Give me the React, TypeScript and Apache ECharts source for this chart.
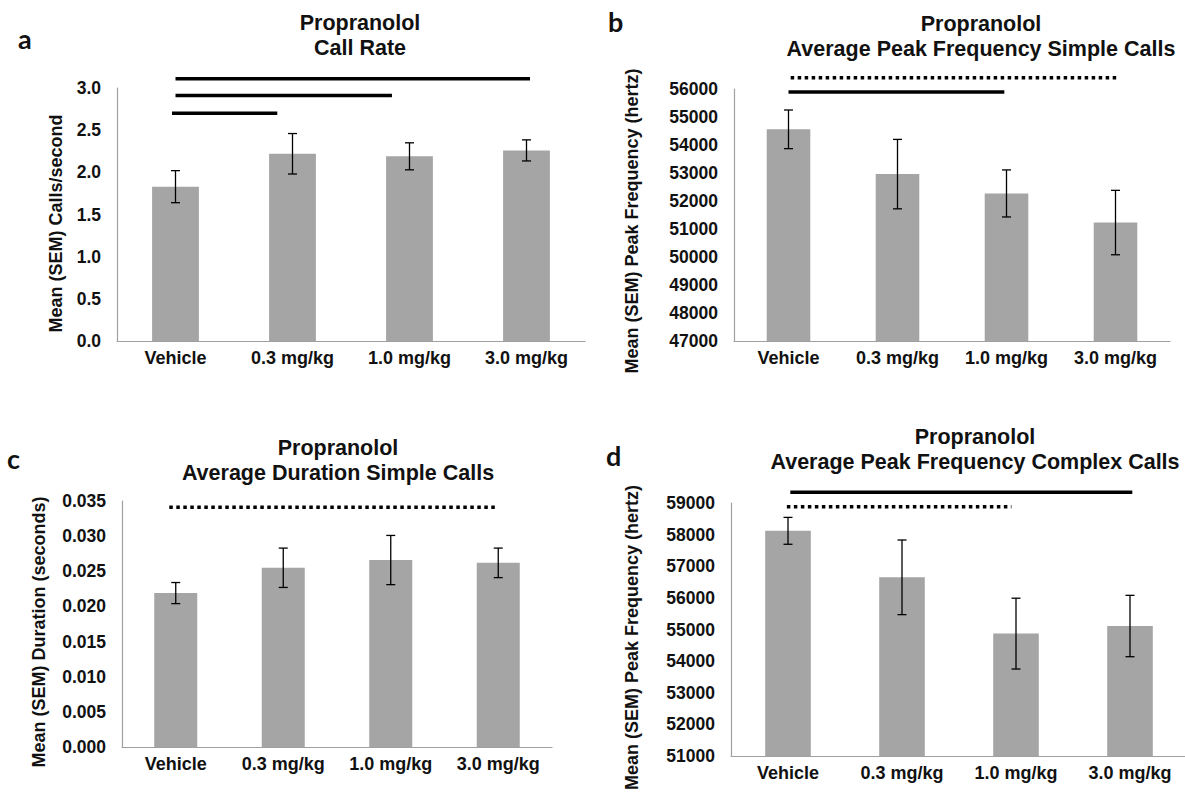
import React, { useEffect, useRef } from "react";
import * as echarts from "echarts";

// Dose groups shared by all four panels
const categories = ["Vehicle", "0.3 mg/kg", "1.0 mg/kg", "3.0 mg/kg"];

// a: call rate (calls/second)
const callRateMean = [1.83, 2.22, 2.19, 2.26];
const callRateSem = [0.19, 0.24, 0.16, 0.125];

// b: average peak frequency, simple calls (Hz)
const simplePeakMean = [54560, 52960, 52270, 51230];
const simplePeakSem = [690, 1240, 840, 1150];

// c: average duration, simple calls (s)
const simpleDurMean = [0.0219, 0.0255, 0.0266, 0.0262];
const simpleDurSem = [0.0015, 0.0028, 0.0035, 0.0021];

// d: average peak frequency, complex calls (Hz)
const complexPeakMean = [58120, 56650, 54870, 55110];
const complexPeakSem = [425, 1180, 1120, 970];

// Significance bars: [from group, to group, level, kind]
const callRateSig: [number, number, number, string][] = [
  [0, 3.03, 3.11, "solid"],
  [0, 1.85, 2.91, "solid"],
  [-0.03, 0.87, 2.7, "solid"],
];
const simplePeakSig: [number, number, number, string][] = [
  [0.02, 3.02, 56404, "dotted"],
  [0, 1.98, 55893, "solid"],
];
const simpleDurSig: [number, number, number, string][] = [
  [-0.06, 2.97, 0.0341, "dotted"],
];
const complexPeakSig: [number, number, number, string][] = [
  [0.02, 3.02, 59338, "solid"],
  [-0.01, 1.96, 58884, "dotted"],
];

const FONT = "'Liberation Sans', Arial, sans-serif";
const BAR = "#a5a5a5";
const AXIS = "#a0a0a0";
const TEXT = "#111";

type Panel = {
  letter: string;
  letterPos: [number, number];
  title: string;
  titleX: number;
  titleTop: number;
  grid: { left: number; top: number; width: number; height: number };
  yName: string;
  yNameGap: number;
  yNamePad: number;
  min: number;
  max: number;
  interval: number;
  digits: number;
  mean: number[];
  sem: number[];
  sig: [number, number, number, string][];
};

const panels: Panel[] = [
  {
    letter: "a",
    letterPos: [13, 20],
    title: "Propranolol\nCall Rate",
    titleX: 355,
    titleTop: 5,
    grid: { left: 117, top: 88, width: 468, height: 253 },
    yName: "Mean (SEM) Calls/second",
    yNameGap: 52,
    yNamePad: 18,
    min: 0,
    max: 3,
    interval: 0.5,
    digits: 1,
    mean: callRateMean,
    sem: callRateSem,
    sig: callRateSig,
  },
  {
    letter: "b",
    letterPos: [603, 3],
    title: "Propranolol\nAverage Peak Frequency Simple Calls",
    titleX: 976,
    titleTop: 6,
    grid: { left: 734, top: 89, width: 436, height: 252 },
    yName: "Mean (SEM) Peak Frequency (hertz)",
    yNameGap: 93,
    yNamePad: 12,
    min: 47000,
    max: 56000,
    interval: 1000,
    digits: 0,
    mean: simplePeakMean,
    sem: simplePeakSem,
    sig: simplePeakSig,
  },
  {
    letter: "c",
    letterPos: [2, 440],
    title: "Propranolol\nAverage Duration Simple Calls",
    titleX: 333,
    titleTop: 430,
    grid: { left: 122, top: 501, width: 430, height: 246 },
    yName: "Mean (SEM) Duration (seconds)",
    yNameGap: 74,
    yNamePad: 16,
    min: 0,
    max: 0.035,
    interval: 0.005,
    digits: 3,
    mean: simpleDurMean,
    sem: simpleDurSem,
    sig: simpleDurSig,
  },
  {
    letter: "d",
    letterPos: [601, 437],
    title: "Propranolol\nAverage Peak Frequency Complex Calls",
    titleX: 970,
    titleTop: 419,
    grid: { left: 731, top: 503, width: 456, height: 253 },
    yName: "Mean (SEM) Peak Frequency (hertz)",
    yNameGap: 90,
    yNamePad: 16,
    min: 51000,
    max: 59000,
    interval: 1000,
    digits: 0,
    mean: complexPeakMean,
    sem: complexPeakSem,
    sig: complexPeakSig,
  },
];

function buildOption() {
  const title: any[] = [];
  const grid: any[] = [];
  const xAxis: any[] = [];
  const yAxis: any[] = [];
  const series: any[] = [];

  panels.forEach((p, k) => {
    title.push({
      text: p.title,
      left: p.titleX,
      top: p.titleTop,
      textAlign: "center",
      textStyle: {
        fontFamily: FONT,
        fontSize: 21.5,
        fontWeight: "bold",
        color: TEXT,
        lineHeight: 25,
      },
    });
    title.push({
      text: p.letter,
      left: p.letterPos[0],
      top: p.letterPos[1],
      textStyle: {
        fontFamily: "Lato, 'Open Sans', sans-serif",
        fontSize: 27,
        fontWeight: "bold",
        color: TEXT,
      },
    });

    grid.push({ ...p.grid, containLabel: false, outerBoundsMode: "none" });

    xAxis.push({
      type: "category",
      gridIndex: k,
      data: categories,
      axisLine: { onZero: false, lineStyle: { color: AXIS, width: 1.2 } },
      axisTick: { show: false },
      axisLabel: {
        interval: 0,
        hideOverlap: false,
        color: TEXT,
        fontFamily: FONT,
        fontWeight: "bold",
        fontSize: 18,
        margin: 8,
      },
    });
    // Hidden numeric axis over the same bands, used to place comparison bars
    xAxis.push({
      type: "value",
      gridIndex: k,
      min: -0.5,
      max: 3.5,
      show: false,
    });

    yAxis.push({
      type: "value",
      gridIndex: k,
      min: p.min,
      max: p.max,
      interval: p.interval,
      splitLine: { show: false },
      axisTick: { show: false },
      axisLine: { show: true, onZero: false, lineStyle: { color: AXIS, width: 1.2 } },
      axisLabel: {
        color: TEXT,
        fontFamily: FONT,
        fontWeight: "bold",
        fontSize: 17.5,
        margin: 16,
        formatter: (v: number) => v.toFixed(p.digits),
      },
      name: p.yName,
      nameLocation: "middle",
      nameGap: p.yNameGap,
      nameTextStyle: {
        color: TEXT,
        fontFamily: FONT,
        fontWeight: "bold",
        fontSize: 18,
        padding: [0, p.yNamePad, 0, 0],
      },
    });

    series.push({
      type: "bar",
      xAxisIndex: 2 * k,
      yAxisIndex: k,
      data: p.mean,
      barWidth: "40%",
      itemStyle: { color: BAR },
    });

    series.push({
      type: "custom",
      xAxisIndex: 2 * k,
      yAxisIndex: k,
      data: p.mean.map((m, i) => [i, m - p.sem[i], m + p.sem[i]]),
      encode: { x: 0, y: [1, 2] },
      z: 5,
      renderItem: (_params: any, api: any) => {
        const i = api.value(0);
        const top = api.coord([i, api.value(2)]);
        const bot = api.coord([i, api.value(1)]);
        const hw = 4.5;
        const style = { stroke: "#000", lineWidth: 1.3 };
        return {
          type: "group",
          children: [
            { type: "line", shape: { x1: top[0], y1: top[1], x2: bot[0], y2: bot[1] }, style },
            { type: "line", shape: { x1: top[0] - hw, y1: top[1], x2: top[0] + hw, y2: top[1] }, style },
            { type: "line", shape: { x1: bot[0] - hw, y1: bot[1], x2: bot[0] + hw, y2: bot[1] }, style },
          ],
        };
      },
    });

    p.sig.forEach(([from, to, level, kind]) => {
      series.push({
        type: "line",
        xAxisIndex: 2 * k + 1,
        yAxisIndex: k,
        data: [
          [from, level],
          [to, level],
        ],
        symbol: "none",
        clip: false,
        silent: true,
        z: 6,
        lineStyle: {
          color: "#000",
          width: 3.5,
          type: kind === "dotted" ? [3.5, 3.5] : "solid",
          cap: "butt",
        },
      });
    });
  });

  return {
    animation: false,
    backgroundColor: "#fff",
    title,
    grid,
    xAxis,
    yAxis,
    series,
  };
}

export default function App() {
  const ref = useRef<HTMLDivElement>(null);

  useEffect(() => {
    if (!ref.current) return;
    const chart = echarts.init(ref.current, undefined, { renderer: "svg" });
    chart.setOption(buildOption());
    return () => chart.dispose();
  }, []);

  return (
    <div
      ref={ref}
      style={{
        position: "fixed",
        left: 0,
        top: 0,
        width: 1185,
        height: 793,
        background: "#fff",
      }}
    />
  );
}
